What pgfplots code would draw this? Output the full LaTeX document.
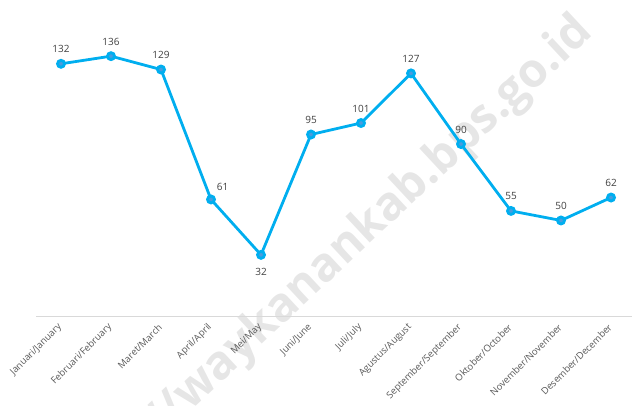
\documentclass[border=0pt]{standalone}
\usepackage{pgfplots}
\pgfplotsset{compat=1.18}
\usepackage{fontspec}
\setmainfont{Open Sans}
\definecolor{linec}{HTML}{00AEEF}
\definecolor{markc}{HTML}{4A9CDE}
\definecolor{wm}{HTML}{E6E6E6}
\definecolor{tickc}{HTML}{595959}
\definecolor{labc}{HTML}{404040}
\definecolor{axc}{HTML}{D9D9D9}
\begin{document}
\begin{tikzpicture}
\useasboundingbox (0pt,0pt) rectangle (632pt,406pt);
\node[rotate=43, text=wm, font=\fontsize{47}{47}\selectfont\bfseries, inner sep=0] at (384pt,192pt) {\llap{https://}waykanankab.bps.go.id};
\begin{axis}[
  at={(36pt,90pt)}, anchor=south west, scale only axis,
  width=596pt, height=316pt,
  xmin=-0.5, xmax=11.42, ymin=0, ymax=165.4,
  axis x line*=bottom, axis y line=none,
  x axis line style={draw=axc, line width=0.8pt, -},
  xtick={0,...,11},
  xticklabels={Januari/January,Februari/February,Maret/March,April/April,Mei/May,Juni/June,Juli/July,Agustus/August,September/September,Oktober/October,November/November,Desember/December},
  major tick length=0pt,
  ytick=\empty,
  xticklabel shift=9pt,
  xticklabel style={rotate=45, anchor=east, inner sep=1pt, font=\fontsize{9.5}{10}\selectfont, text=tickc},
  clip=false,
]
\addplot[color=linec, line width=2.8pt, mark=*, mark size=3.5pt, mark options={fill=markc, draw=none, solid}]
coordinates {(0,132) (1,136) (2,129) (3,61) (4,32) (5,95) (6,101) (7,127) (8,90) (9,55) (10,50) (11,62)};
\addplot[draw=none, mark=none, point meta=explicit symbolic, nodes near coords,
  nodes near coords style={anchor=base, yshift=11pt, font=\fontsize{10}{10}\selectfont, text=labc}]
coordinates {(0,132) [132] (1,136) [136] (2,129) [129] (5,95) [95] (6,101) [101] (7,127) [127] (8,90) [90] (9,55) [55] (10,50) [50] (11,62) [62]};
\addplot[draw=none, mark=none, point meta=explicit symbolic, nodes near coords,
  nodes near coords style={anchor=base, xshift=11.5pt, yshift=9pt, font=\fontsize{10}{10}\selectfont, text=labc}]
coordinates {(3,61) [61]};
\addplot[draw=none, mark=none, point meta=explicit symbolic, nodes near coords,
  nodes near coords style={anchor=base, yshift=-21pt, font=\fontsize{10}{10}\selectfont, text=labc}]
coordinates {(4,32) [32]};
\end{axis}
\end{tikzpicture}
\end{document}
